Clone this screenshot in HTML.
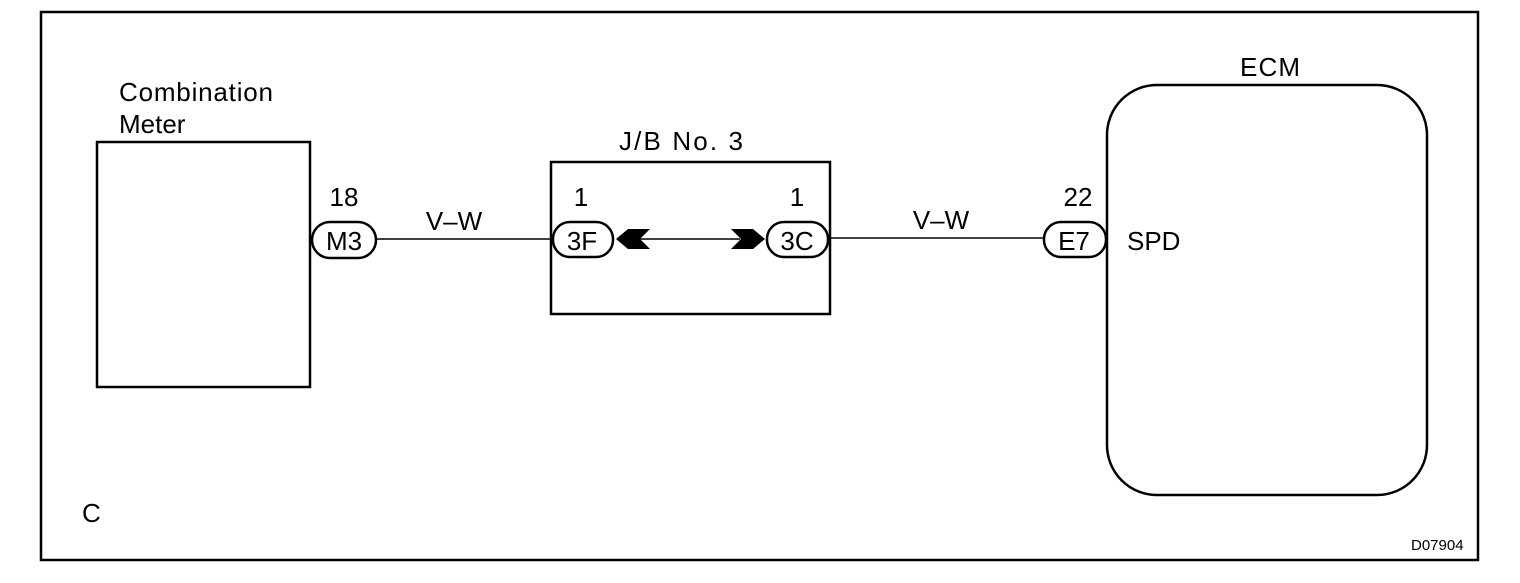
<!DOCTYPE html>
<html><head><style>body{margin:0;background:#fff}</style></head><body>
<svg width="1520" height="578" xmlns="http://www.w3.org/2000/svg" font-family="Liberation Sans, Arial, sans-serif" fill="none" stroke="#000">
<rect x="41" y="12" width="1437" height="548" stroke-width="2.5"/>
<rect x="97" y="142" width="213" height="245" stroke-width="2.5"/>
<rect x="551" y="162" width="279" height="152" stroke-width="2.5"/>
<rect x="1107" y="85" width="320" height="410" rx="50" stroke-width="2.5"/>
<line x1="376" y1="239" x2="553" y2="239" stroke-width="1.5"/>
<line x1="640" y1="239" x2="740" y2="239" stroke-width="1.5"/>
<line x1="829" y1="238" x2="1045" y2="238" stroke-width="1.5"/>
<rect x="312" y="222" width="64" height="36" rx="18" stroke-width="2.5"/>
<rect x="553" y="222" width="60" height="35" rx="17" stroke-width="2.5"/>
<rect x="767" y="222" width="61" height="35" rx="17" stroke-width="2.5"/>
<rect x="1044" y="222" width="62" height="35" rx="17" stroke-width="2.5"/>
<polygon points="616,239 628,229 650,229 640,239 650,249 628,249" fill="#000" stroke="none"/>
<polygon points="765,239 753,229 731,229 741,239 731,249 753,249" fill="#000" stroke="none"/>
<g fill="#000" stroke="none" font-size="26">
<text x="119" y="101" textLength="154">Combination</text>
<text x="119" y="133">Meter</text>
<text x="619" y="150" textLength="124">J/B No. 3</text>
<text x="1240" y="76" textLength="60">ECM</text>
<text x="344" y="206" text-anchor="middle">18</text>
<text x="344" y="250" text-anchor="middle">M3</text>
<text x="454" y="230" text-anchor="middle">V–W</text>
<text x="581" y="206" text-anchor="middle">1</text>
<text x="582" y="250" text-anchor="middle">3F</text>
<text x="797" y="206" text-anchor="middle">1</text>
<text x="797" y="250" text-anchor="middle">3C</text>
<text x="941" y="229" text-anchor="middle">V–W</text>
<text x="1078" y="206" text-anchor="middle">22</text>
<text x="1074" y="250" text-anchor="middle">E7</text>
<text x="1127" y="250">SPD</text>
<text x="82" y="522">C</text>
<text x="1411" y="550" font-size="15">D07904</text>
</g>
</svg>
</body></html>
